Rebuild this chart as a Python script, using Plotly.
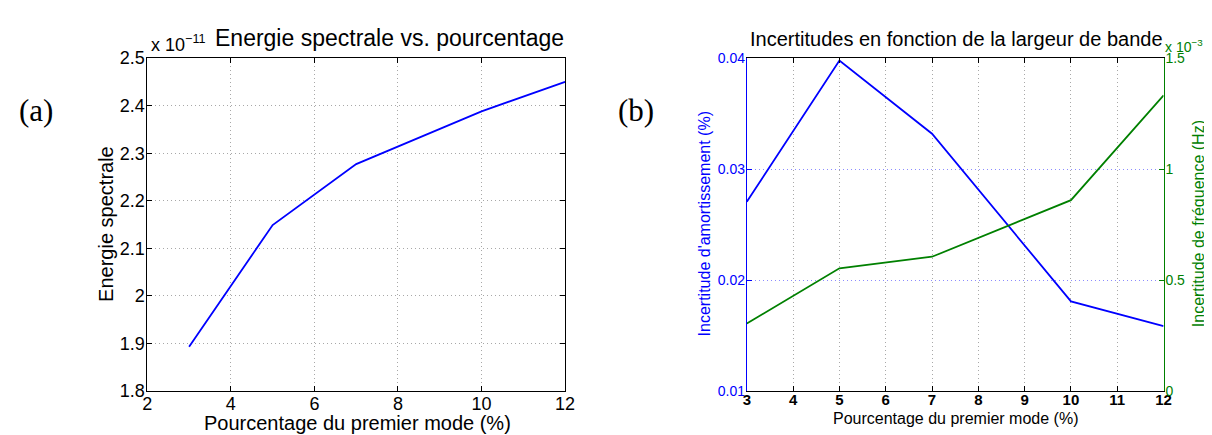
import plotly.graph_objects as go

# ---------------- data ----------------
pct = [3, 5, 7, 10, 12]
energie = [1.893e-11, 2.149e-11, 2.277e-11, 2.388e-11, 2.450e-11]
incert_amort = [0.02705, 0.03977, 0.03318, 0.01808, 0.01585]
incert_freq = [0.304e-3, 0.553e-3, 0.605e-3, 0.860e-3, 1.332e-3]

xa_ticks = [2, 4, 6, 8, 10, 12]
ya_ticks = [1.8e-11, 1.9e-11, 2.0e-11, 2.1e-11, 2.2e-11, 2.3e-11, 2.4e-11, 2.5e-11]
ya_labels = ["1.8", "1.9", "2", "2.1", "2.2", "2.3", "2.4", "2.5"]
xb_ticks = [3, 4, 5, 6, 7, 8, 9, 10, 11, 12]
yb_ticks = [0.01, 0.02, 0.03, 0.04]
yb_labels = ["0.01", "0.02", "0.03", "0.04"]
yc_ticks = [0, 0.5e-3, 1.0e-3, 1.5e-3]
yc_labels = ["0", "0.5", "1", "1.5"]

W, H = 1212, 435
def px(x):
    return x / W
def py(y):
    return 1 - y / H

SANS = "Liberation Sans, Arial, Helvetica, sans-serif"
SERIF = "Liberation Serif, DejaVu Serif, serif"
BLUE = "#0000ff"
GREEN = "#008000"
GRID = "#a8a8a8"
DOT = "1px,3px"

fig = go.Figure()
fig.add_trace(go.Scatter(x=pct, y=energie, mode="lines",
                         line=dict(color=BLUE, width=1.8), xaxis="x", yaxis="y",
                         showlegend=False))
fig.add_trace(go.Scatter(x=pct, y=incert_amort, mode="lines",
                         line=dict(color=BLUE, width=1.8), xaxis="x2", yaxis="y2",
                         showlegend=False))
fig.add_trace(go.Scatter(x=pct, y=incert_freq, mode="lines",
                         line=dict(color=GREEN, width=1.8), xaxis="x2", yaxis="y3",
                         showlegend=False))

yd = [py(391), py(42)]
common = dict(zeroline=False, ticks="inside", ticklen=5, showline=True,
              linewidth=1)

fig.update_layout(
    width=W, height=H,
    margin=dict(l=0, r=0, t=0, b=0),
    paper_bgcolor="white", plot_bgcolor="white",
    font=dict(family=SANS, color="black"),
    xaxis=dict(domain=[px(136), px(559)], range=[2, 12], tickvals=xa_ticks,
               mirror="ticks", linecolor="black", tickcolor="black",
               showgrid=True, gridcolor=GRID, griddash=DOT, gridwidth=1,
               tickfont=dict(size=18, color="black"), anchor="y",
               ticklabelstandoff=-4, **common),
    yaxis=dict(domain=yd, range=[1.8e-11, 2.5e-11], tickvals=ya_ticks,
               ticktext=ya_labels, mirror="ticks", linecolor="black",
               tickcolor="black", showgrid=True, gridcolor=GRID,
               griddash=DOT, gridwidth=1, ticklabelstandoff=-2,
               tickfont=dict(size=18, color="black"), anchor="x", **common),
    xaxis2=dict(domain=[px(743), px(1165)], range=[3, 12], tickvals=xb_ticks,
                mirror="ticks", linecolor="black", tickcolor="black",
                showgrid=True, gridcolor=GRID, griddash=DOT, gridwidth=1,
                tickfont=dict(size=15, color="black", weight="bold"),
                ticklabelstandoff=-5, anchor="y2", **common),
    yaxis2=dict(domain=yd, range=[0.01, 0.04], tickvals=yb_ticks,
                ticktext=yb_labels, linecolor=BLUE, tickcolor=BLUE,
                showgrid=True, gridcolor="#8c8cff", griddash=DOT, gridwidth=1,
                tickfont=dict(size=14, color=BLUE), anchor="x2", side="left",
                ticklabelstandoff=-2, **common),
    yaxis3=dict(domain=yd, range=[0, 1.5e-3], tickvals=yc_ticks,
                ticktext=yc_labels, linecolor=GREEN, tickcolor=GREEN,
                showgrid=False, tickfont=dict(size=14, color=GREEN),
                overlaying="y2", anchor="x2", side="right",
                ticklabelstandoff=-2, **common),
)

ann = []
def add(text, x, y, size, color="black", xanchor="center", yanchor="middle",
        angle=0, family=SANS):
    ann.append(dict(text=text, x=px(x), y=py(y), xref="paper", yref="paper",
                    showarrow=False, xanchor=xanchor, yanchor=yanchor,
                    textangle=angle, font=dict(size=size, color=color,
                                               family=family)))

# panel (a)
add("Energie spectrale vs. pourcentage", 381, 21, 23)
add("x 10<sup>−11</sup>", 138, 41, 18, xanchor="left", yanchor="bottom")
add("Pourcentage du premier mode (%)", 349, 424, 20)
add("Energie spectrale", 94, 216, 20, angle=-90)
add("(a)", 23, 97, 31, family=SERIF)

# panel (b)
add("Incertitudes en fonction de la largeur de bande", 955, 22, 20)
add("x 10<sup>−3</sup>", 1164, 41, 14, color=GREEN, xanchor="left",
    yanchor="bottom")
add("Pourcentage du premier mode (%)", 954, 420, 16)
add("Incertitude d'amortissement (%)", 700, 216, 16, color=BLUE, angle=-90)
add("Incertitude de fréquence (Hz)", 1200, 216, 16, color=GREEN, angle=-90)
add("(b)", 631, 97, 31, family=SERIF)

fig.update_layout(annotations=ann)
fig.write_html("out.html")
